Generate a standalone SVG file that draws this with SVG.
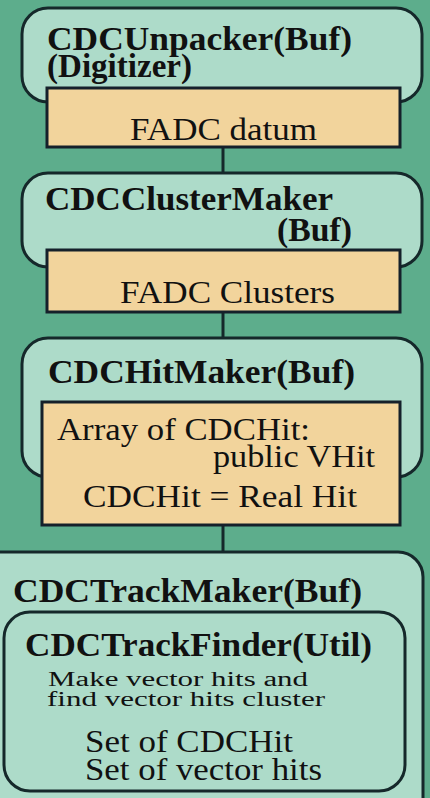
<svg xmlns="http://www.w3.org/2000/svg" width="430" height="798" viewBox="0 0 430 798">
<style>
.bg{fill:#5dad8c}
.cell{fill:#addbc9;stroke:#15282a;stroke-width:3}
.tan{fill:#f2d49c;stroke:#15202a;stroke-width:3}
.link{stroke:#15282a;stroke-width:3;fill:none}
text{font-family:"Liberation Serif","Times New Roman",serif;fill:#111}
.b{font-weight:bold;font-size:33px}
.r{font-size:31px}
.s{font-size:20px}
</style>
<rect class="bg" x="0" y="0" width="430" height="798"/>
<g id="connectors">
<line class="link" x1="223" y1="147" x2="223" y2="174"/>
<line class="link" x1="223" y1="312" x2="223" y2="339"/>
<line class="link" x1="223" y1="525" x2="223" y2="553"/>
</g>
<g id="cdcunpacker">
<rect class="cell" x="22" y="8" width="400" height="94" rx="26"/>
<text class="b" x="47" y="50" textLength="305" lengthAdjust="spacingAndGlyphs">CDCUnpacker(Buf)</text>
<text class="b" x="47" y="77" textLength="145" lengthAdjust="spacingAndGlyphs">(Digitizer)</text>
</g>
<g id="fadc-datum">
<rect class="tan" x="47" y="88" width="353" height="59"/>
<text class="r" x="130" y="140" textLength="187" lengthAdjust="spacingAndGlyphs">FADC datum</text>
</g>
<g id="cdcclustermaker">
<rect class="cell" x="22" y="173" width="400" height="94" rx="26"/>
<text class="b" x="45" y="210" textLength="288" lengthAdjust="spacingAndGlyphs">CDCClusterMaker</text>
<text class="b" x="277" y="241" textLength="75" lengthAdjust="spacingAndGlyphs">(Buf)</text>
</g>
<g id="fadc-clusters">
<rect class="tan" x="47" y="250" width="353" height="62"/>
<text class="r" x="120" y="303" textLength="215" lengthAdjust="spacingAndGlyphs">FADC Clusters</text>
</g>
<g id="cdchitmaker">
<rect class="cell" x="22" y="338" width="400" height="139" rx="26"/>
<text class="b" x="48" y="383" textLength="307" lengthAdjust="spacingAndGlyphs">CDCHitMaker(Buf)</text>
</g>
<g id="array-cdchit">
<rect class="tan" x="42" y="402" width="358" height="123" stroke-width="3.5"/>
<text class="r" x="57" y="440" textLength="253" lengthAdjust="spacingAndGlyphs">Array of CDCHit:</text>
<text class="r" x="213" y="467" textLength="162" lengthAdjust="spacingAndGlyphs">public VHit</text>
<text class="r" x="83" y="507" textLength="274" lengthAdjust="spacingAndGlyphs">CDCHit = Real Hit</text>
</g>
<g id="cdctrackmaker">
<path class="cell" d="M-5 552 H398 A25 25 0 0 1 423 577 V805 H-5 Z"/>
<text class="b" x="13" y="602" textLength="349" lengthAdjust="spacingAndGlyphs">CDCTrackMaker(Buf)</text>
</g>
<g id="cdctrackfinder">
<rect class="cell" x="4" y="612" width="401" height="179" rx="26"/>
<text class="b" x="25" y="656" textLength="347" lengthAdjust="spacingAndGlyphs">CDCTrackFinder(Util)</text>
<text class="s" x="48" y="686" textLength="260" lengthAdjust="spacingAndGlyphs">Make vector hits and</text>
<text class="s" x="47" y="706" textLength="278" lengthAdjust="spacingAndGlyphs">find vector hits cluster</text>
<text class="r" x="85" y="752" textLength="208" lengthAdjust="spacingAndGlyphs">Set of CDCHit</text>
<text class="r" x="85" y="780" textLength="237" lengthAdjust="spacingAndGlyphs">Set of vector hits</text>
</g>
</svg>
